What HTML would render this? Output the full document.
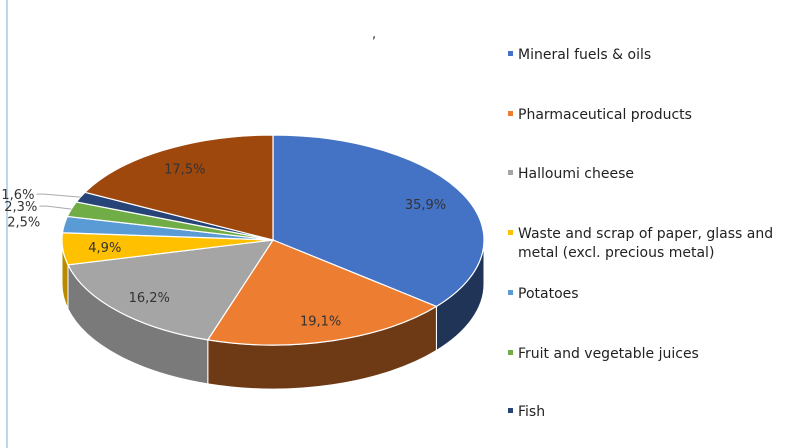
<!DOCTYPE html>
<html><head><meta charset="utf-8"><style>
body{margin:0;background:#fff;}
svg{display:block;font-family:"DejaVu Sans","Liberation Sans",sans-serif;}
</style></head><body>
<svg id="chart" width="800" height="448" viewBox="0 0 800 448">
<rect x="0" y="0" width="800" height="448" fill="#fff"/>
<line x1="7" y1="0" x2="7" y2="448" stroke="#bdd7ee" stroke-width="2"/>
<text x="372" y="38" font-size="13" fill="#333">,</text>
<g id="walls"></g>
<g id="tops"></g>
<g id="labels"></g>
<g id="legend"></g>
</svg>
<script>
const categories = ["Mineral fuels & oils","Pharmaceutical products","Halloumi cheese","Waste and scrap of paper, glass and metal (excl. precious metal)","Potatoes","Fruit and vegetable juices","Fish","Other"];
const values = [35.9,19.1,16.2,4.9,2.5,2.3,1.6,17.5];
const valueLabels = ["35,9%","19,1%","16,2%","4,9%","2,5%","2,3%","1,6%","17,5%"];
const colors = ["#4472C4","#ED7D31","#A5A5A5","#FFC000","#5B9BD5","#70AD47","#264478","#9E480E"];
const sideColors = ["#1F3456","#6E3A16","#7A7A7A","#B88A00","#3F6F9A","#4E7A32","#172C4E","#6B300A"];
const legendLines = [["Mineral fuels & oils"],["Pharmaceutical products"],["Halloumi cheese"],["Waste and scrap of paper, glass and","metal (excl. precious metal)"],["Potatoes"],["Fruit and vegetable juices"],["Fish"]];

const NS="http://www.w3.org/2000/svg";
const cx=273, cy=240, rx=211, ry=105, depth=44;
const total=values.reduce((a,b)=>a+b,0);
function pt(t,f,dy){return [cx+rx*f*Math.sin(t), cy-ry*f*Math.cos(t)+(dy||0)];}
function ang(v){return v/total*2*Math.PI;}
const walls=document.getElementById('walls'), tops=document.getElementById('tops'), labels=document.getElementById('labels'), legend=document.getElementById('legend');
let cum=0;
values.forEach((v,i)=>{
  const t1=ang(cum), t2=ang(cum+v); cum+=v;
  // front wall portion
  const a=Math.max(t1,Math.PI/2), b=Math.min(t2,3*Math.PI/2);
  if(b>a){
    const p1=pt(a,1),p2=pt(b,1),p3=pt(b,1,depth),p4=pt(a,1,depth);
    const lg=(b-a)>Math.PI?1:0;
    const w=document.createElementNS(NS,'path');
    w.setAttribute('d',`M${p1[0]},${p1[1]} A${rx},${ry} 0 ${lg} 1 ${p2[0]},${p2[1]} L${p3[0]},${p3[1]} A${rx},${ry} 0 ${lg} 0 ${p4[0]},${p4[1]} Z`);
    w.setAttribute('fill',sideColors[i]);w.setAttribute('stroke','#fff');w.setAttribute('stroke-width','1');
    
    
    walls.appendChild(w);
  }
  const s=pt(t1,1), e=pt(t2,1), lg=(t2-t1)>Math.PI?1:0;
  const p=document.createElementNS(NS,'path');
  p.setAttribute('d',`M${cx},${cy} L${s[0]},${s[1]} A${rx},${ry} 0 ${lg} 1 ${e[0]},${e[1]} Z`);
  p.setAttribute('fill',colors[i]);p.setAttribute('stroke','#fff');p.setAttribute('stroke-width','1.2');
  
  
  tops.appendChild(p);
  const tm=(t1+t2)/2;
  const tx=document.createElementNS(NS,'text');
  tx.setAttribute('font-size','13');tx.setAttribute('fill','#333');
  if(v>=4){
    const q=pt(tm,0.8,5);
    tx.setAttribute('x',q[0]);tx.setAttribute('y',q[1]);tx.setAttribute('text-anchor','middle');
  } else {
    const q=pt(tm,1.0);
    const off=v>=2.5?0:(v>=2?10:22);
    const lx=q[0]-22-off, ly=q[1]-3;
    tx.setAttribute('x',lx-2);tx.setAttribute('y',ly+5);tx.setAttribute('text-anchor','end');
    if(off>0){
      const ln=document.createElementNS(NS,'polyline');
      ln.setAttribute('points',`${lx},${ly} ${lx+8},${ly} ${q[0]},${q[1]}`);
      ln.setAttribute('fill','none');ln.setAttribute('stroke','#aaa');ln.setAttribute('stroke-width','1');
      
      
      labels.appendChild(ln);
    }
  }
  tx.textContent=valueLabels[i];
  
  
  labels.appendChild(tx);
});
const ys=[54,114,173,233,293,353,411];
legendLines.forEach((lines,i)=>{
  const g=document.createElementNS(NS,'g');
  
  
  const r=document.createElementNS(NS,'rect');
  r.setAttribute('x',508);r.setAttribute('y',ys[i]-3);r.setAttribute('width',5);r.setAttribute('height',5);r.setAttribute('fill',colors[i]);
  
  
  g.appendChild(r);
  lines.forEach((ln,j)=>{
    const t=document.createElementNS(NS,'text');
    t.setAttribute('x',518);t.setAttribute('y',ys[i]+5+j*19);t.setAttribute('font-size','14');t.setAttribute('fill','#222');
    t.textContent=ln;
    
    
    g.appendChild(t);
  });
  legend.appendChild(g);
});
</script>
</body></html>
